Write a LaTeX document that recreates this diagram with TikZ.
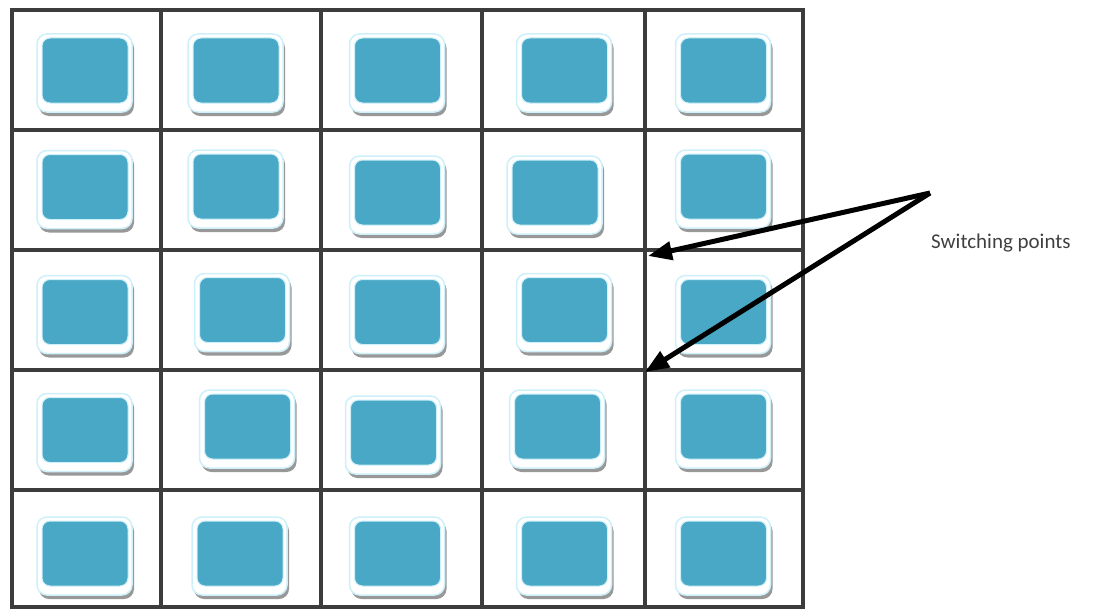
\documentclass[tikz,border=0pt]{standalone}
\usepackage{fontspec}
\setmainfont{Carlito}
\usepackage{tikz}
\usetikzlibrary{arrows.meta,calc,shadows}
\definecolor{tileblue}{RGB}{72,168,197}
\definecolor{tileglow}{RGB}{206,240,250}
\definecolor{tileshadow}{RGB}{152,152,152}
\definecolor{gridline}{RGB}{60,60,60}
\definecolor{labeltext}{RGB}{64,64,64}
\tikzset{
  tile/.style={rectangle, rounded corners=10pt, fill=white, draw=tileglow,
    line width=1.5pt, minimum width=95pt, minimum height=78pt, inner sep=0pt,
    drop shadow={shadow xshift=2pt, shadow yshift=-4pt, fill=tileshadow,
      opacity=1},
    path picture={\fill[tileblue, draw=tileglow, line width=1pt,
      rounded corners=8pt]
      ($(path picture bounding box.north west)+(5pt,-4pt)$) rectangle
      ($(path picture bounding box.south east)+(-4pt,9pt)$);}},
  cell/.style={draw=gridline, line width=4pt, line cap=rect},
  pointer/.style={-{Triangle[length=24pt, width=18pt]}, line width=5pt},
  note/.style={font=\fontsize{21}{25}\selectfont, text=labeltext,
    inner sep=0pt}
}

\begin{document}
\begin{tikzpicture}[x=1pt, y=1pt]
  \useasboundingbox (0,0) rectangle (1097,-610);
  % grid of cells
  \foreach \x in {12,161,321,482,645,803}
    \draw[cell] (\x,-10) -- (\x,-607);
  \foreach \y in {10,130,250,370,490,607}
    \draw[cell] (12,-\y) -- (803,-\y);
  % tiles
  \node[tile] (t11) at (84.5,-73) {};
  \node[tile] (t12) at (235.5,-73) {};
  \node[tile] (t13) at (397,-73) {};
  \node[tile] (t14) at (564,-73) {};
  \node[tile] (t15) at (723,-73) {};
  \node[tile] (t21) at (84.5,-189.5) {};
  \node[tile] (t22) at (235.5,-189) {};
  \node[tile] (t23) at (397,-195) {};
  \node[tile] (t24) at (554.5,-195) {};
  \node[tile] (t25) at (723,-189) {};
  \node[tile] (t31) at (84.5,-314.5) {};
  \node[tile] (t32) at (242,-312.5) {};
  \node[tile] (t33) at (397,-314.5) {};
  \node[tile] (t34) at (564,-312.5) {};
  \node[tile] (t35) at (723,-314.5) {};
  \node[tile] (t41) at (84.5,-432.5) {};
  \node[tile] (t42) at (247,-429) {};
  \node[tile] (t43) at (393,-435) {};
  \node[tile] (t44) at (557,-429) {};
  \node[tile] (t45) at (723,-429) {};
  \node[tile] (t51) at (84.5,-556) {};
  \node[tile] (t52) at (239.5,-556) {};
  \node[tile] (t53) at (397,-556) {};
  \node[tile] (t54) at (564,-556) {};
  \node[tile] (t55) at (723,-556) {};
  % switching points
  \coordinate (src) at (930,-193);
  \coordinate (sp1) at (648,-256);
  \coordinate (sp2) at (645,-372);
  \node[note, anchor=base west] (lbl) at (931,-248) {Switching points};
  \draw[pointer] (src) -- (sp1);
  \draw[pointer] (src) -- (sp2);
\end{tikzpicture}
\end{document}
